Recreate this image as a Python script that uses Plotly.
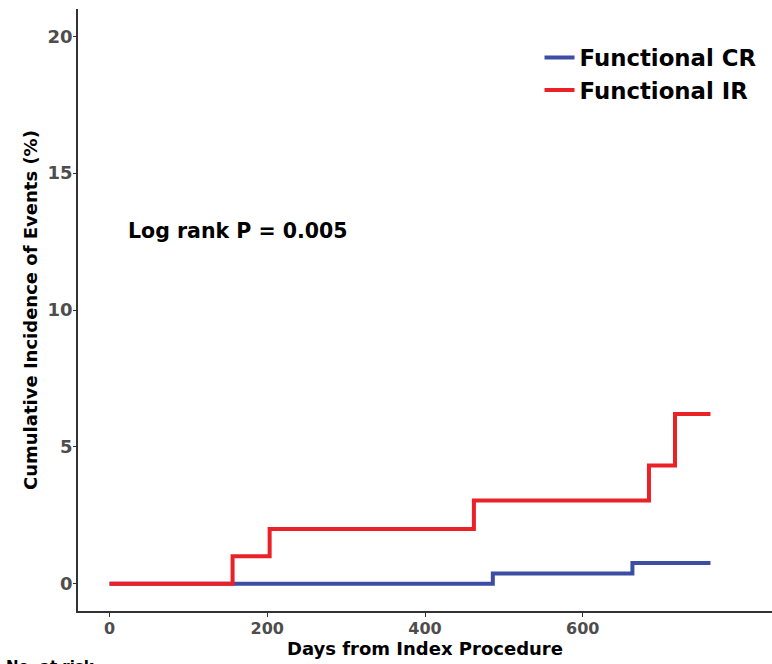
import plotly.graph_objects as go

# Step data
cr_days = [0, 486, 663, 762]
cr_inc = [0.0, 0.37, 0.75, 0.75]
ir_days = [0, 156, 203, 462, 684, 717, 762]
ir_inc = [0.0, 1.0, 2.0, 3.04, 4.32, 6.2, 6.2]

x_ticks = [0, 200, 400, 600]
y_ticks = [0, 5, 10, 15, 20]

FONT = "DejaVu Sans"

fig = go.Figure()
fig.add_trace(go.Scatter(x=cr_days, y=cr_inc, mode="lines", line_shape="hv",
                         name="<b>Functional CR</b>",
                         line=dict(color="#3C4EA3", width=4)))
fig.add_trace(go.Scatter(x=ir_days, y=ir_inc, mode="lines", line_shape="hv",
                         name="<b>Functional IR</b>",
                         line=dict(color="#EA2127", width=4)))

fig.update_layout(
    width=772, height=664,
    margin=dict(l=78, r=0, t=9, b=53, autoexpand=False),
    plot_bgcolor="white", paper_bgcolor="white",
    font=dict(family=FONT, color="black"),
    showlegend=True,
    legend=dict(x=0.665, y=0.955, xanchor="left", yanchor="top",
                font=dict(family=FONT, size=22.8, color="black"),
                bgcolor="rgba(0,0,0,0)", tracegroupgap=0, itemwidth=30),
    annotations=[
        dict(text="<b>Log rank P = 0.005</b>", x=(126 - 78) / 694, y=(611.4 - 231) / 602.8,
             xref="paper", yref="paper", xanchor="left", yanchor="middle",
             showarrow=False, font=dict(family=FONT, size=20.5, color="black")),
        dict(text="<b>Cumulative Incidence of Events (%)</b>", textangle=-90,
             x=(30 - 78) / 694, y=0.5, xref="paper", yref="paper",
             xanchor="center", yanchor="middle", showarrow=False,
             font=dict(family=FONT, size=18, color="black")),
        dict(text="<b>Days from Index Procedure</b>", x=0.5, y=(611.4 - 649) / 602.8,
             xref="paper", yref="paper", xanchor="center", yanchor="middle",
             showarrow=False, font=dict(family=FONT, size=18, color="black")),
        dict(text="<b>No. at risk</b>", x=(4 - 78) / 694, y=(611.4 - 656) / 602.8,
             xref="paper", yref="paper", xanchor="left", yanchor="top",
             showarrow=False, font=dict(family=FONT, size=15, color="black")),
    ],
)
fig.update_xaxes(
    range=[-40, 840], tickvals=x_ticks, ticktext=[f"<b>{v}</b>" for v in x_ticks],
    showline=True, linecolor="#333333", linewidth=1.5, mirror=False,
    ticks="outside", ticklen=4, tickcolor="#333333",
    showgrid=False, zeroline=False, automargin=False, ticklabelstandoff=-2,
    tickfont=dict(family=FONT, size=16, color="#4D4D4D"),
)
fig.update_yaxes(
    range=[-1, 21], tickvals=y_ticks, ticktext=[f"<b>{v}</b>" for v in y_ticks],
    showline=True, linecolor="#333333", linewidth=1.5,
    ticks="outside", ticklen=3, tickcolor="#333333",
    showgrid=False, zeroline=False, automargin=False, ticklabelstandoff=-3,
    tickfont=dict(family=FONT, size=18, color="#4D4D4D"),
)

fig.write_html("out.html", config={"displayModeBar": False},
               post_script="document.body.style.margin='0';document.body.style.overflow='hidden';")
